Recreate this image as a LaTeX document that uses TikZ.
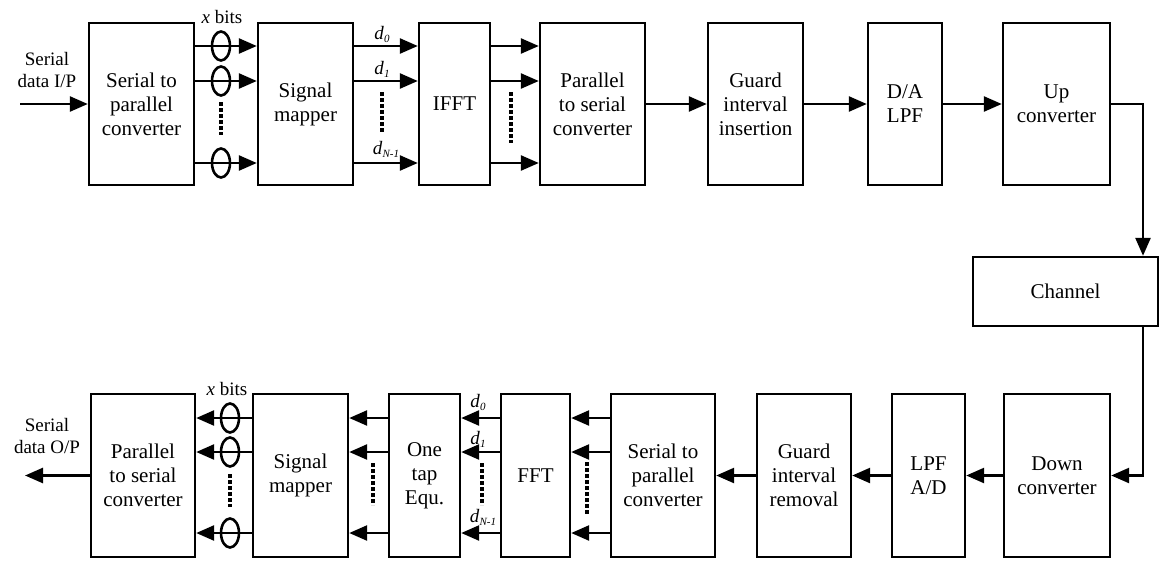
\documentclass[tikz,border=0pt]{standalone}
\usepackage{fontspec}
\setmainfont{Liberation Serif}
\usetikzlibrary{arrows.meta,shapes.geometric}
\tikzset{
  blk/.style={draw, line width=2.4pt, rectangle, inner sep=0pt, align=center,
    font=\fontsize{21}{24}\selectfont},
  arr/.style={line width=2.6pt, -{Triangle[length=18pt,width=15pt]}},
  ell/.style={draw, line width=2.6pt, ellipse, minimum width=18pt, minimum height=29pt, inner sep=0pt},
  dotv/.style={line width=4pt, dash pattern=on 3.5pt off 2.5pt},
  lbl/.style={align=center, font=\fontsize{19}{22}\selectfont},
  dlbl/.style={font=\fontsize{19}{19}\selectfont, inner sep=0pt}
}
\newcommand{\dsub}[1]{\textit{d}\raisebox{-0.35ex}{\fontsize{11}{11}\selectfont\textit{#1}}}
\begin{document}
\begin{tikzpicture}[x=1pt,y=-1pt]
\useasboundingbox (0,0) rectangle (1161,560);
% top row
\node[blk, minimum width=105pt, minimum height=162pt] (sp1) at (141.5,104) {Serial to\\parallel\\converter};
\node[blk, minimum width=95pt, minimum height=162pt] (sm1) at (305.5,104) {Signal\\mapper};
\node[blk, minimum width=71pt, minimum height=162pt] (ifft) at (454.5,104) {IFFT};
\node[blk, minimum width=105pt, minimum height=162pt] (ps1) at (592.5,104) {Parallel\\to serial\\converter};
\node[blk, minimum width=95pt, minimum height=162pt] (gi) at (755.5,104) {Guard\\interval\\insertion};
\node[blk, minimum width=74pt, minimum height=162pt] (da) at (905,104) {D/A\\LPF};
\node[blk, minimum width=107pt, minimum height=162pt] (up) at (1056.5,104) {Up\\converter};
% channel
\node[blk, minimum width=185pt, minimum height=69pt] (ch) at (1065.5,291.5) {Channel};
% bottom row
\node[blk, minimum width=104pt, minimum height=163pt] (ps2) at (143,475.5) {Parallel\\to serial\\converter};
\node[blk, minimum width=95pt, minimum height=163pt] (sm2) at (300.5,475.5) {Signal\\mapper};
\node[blk, minimum width=71pt, minimum height=163pt] (eq) at (424.5,475.5) {One\\tap\\Equ.};
\node[blk, minimum width=69pt, minimum height=163pt] (fft) at (535.5,475.5) {FFT};
\node[blk, minimum width=104pt, minimum height=163pt] (sp2) at (663,475.5) {Serial to\\parallel\\converter};
\node[blk, minimum width=94pt, minimum height=163pt] (gr) at (804,475.5) {Guard\\interval\\removal};
\node[blk, minimum width=73pt, minimum height=163pt] (ad) at (928.5,475.5) {LPF\\A/D};
\node[blk, minimum width=106pt, minimum height=163pt] (down) at (1057,475.5) {Down\\converter};

% level coordinates
\coordinate (ya) at (0,46);
\coordinate (yb) at (0,81);
\coordinate (yc) at (0,163);
\coordinate (za) at (0,418);
\coordinate (zb) at (0,452);
\coordinate (zc) at (0,533);
\coordinate (chx) at (1143,0);
\coordinate (inS) at (20,104);
\coordinate (outS) at (25,475.5);

% input / output
\node[lbl] (inlbl) at (47,70) {Serial\\data I/P};
\node[lbl] (outlbl) at (47,436) {Serial\\data O/P};
\draw[arr] (inS) -- (sp1.west);
\draw[arr] (ps2.west) -- (outS);

% top connectors
\foreach \yy in {ya,yb,yc}{
  \draw[arr] (sp1.east |- \yy) -- (sm1.west |- \yy);
  \draw[arr] (sm1.east |- \yy) -- (ifft.west |- \yy);
  \draw[arr] (ifft.east |- \yy) -- (ps1.west |- \yy);
}
\node[ell] (e1) at (221,46) {};
\node[ell] (e2) at (221,81) {};
\node[ell] (e3) at (221,163) {};
\draw[dotv] (221,102) -- (221,135);
\draw[dotv] (382,92) -- (382,133);
\draw[dotv] (511,92) -- (511,143);
\node[lbl] (xb1) at (222,17) {\textit{x} bits};
\node[dlbl] (d0a) at (382,34) {\dsub{0}};
\node[dlbl] (d1a) at (382,69) {\dsub{1}};
\node[dlbl] (dNa) at (386,149) {\dsub{N-1}};
\draw[arr] (ps1) -- (gi);
\draw[arr] (gi) -- (da);
\draw[arr] (da) -- (up);
\draw[arr] (up.east) -| (ch.north -| chx);
\draw[arr] (ch.south -| chx) |- (down.east);

% bottom connectors
\draw[arr] (down) -- (ad);
\draw[arr] (ad) -- (gr);
\draw[arr] (gr) -- (sp2);
\foreach \yy in {za,zb,zc}{
  \draw[arr] (sp2.west |- \yy) -- (fft.east |- \yy);
  \draw[arr] (fft.west |- \yy) -- (eq.east |- \yy);
  \draw[arr] (eq.west |- \yy) -- (sm2.east |- \yy);
  \draw[arr] (sm2.west |- \yy) -- (ps2.east |- \yy);
}
\node[ell] (f1) at (230,418) {};
\node[ell] (f2) at (230,452) {};
\node[ell] (f3) at (230,533) {};
\draw[dotv] (230,474) -- (230,507);
\draw[dotv] (373,463) -- (373,505);
\draw[dotv] (482,463) -- (482,505);
\draw[dotv] (587,462) -- (587,515);
\node[lbl] (xb2) at (227,389) {\textit{x} bits};
\node[dlbl] (d0b) at (478,402) {\dsub{0}};
\node[dlbl] (d1b) at (478,439) {\dsub{1}};
\node[dlbl] (dNb) at (483,517) {\dsub{N-1}};
\end{tikzpicture}
\end{document}
